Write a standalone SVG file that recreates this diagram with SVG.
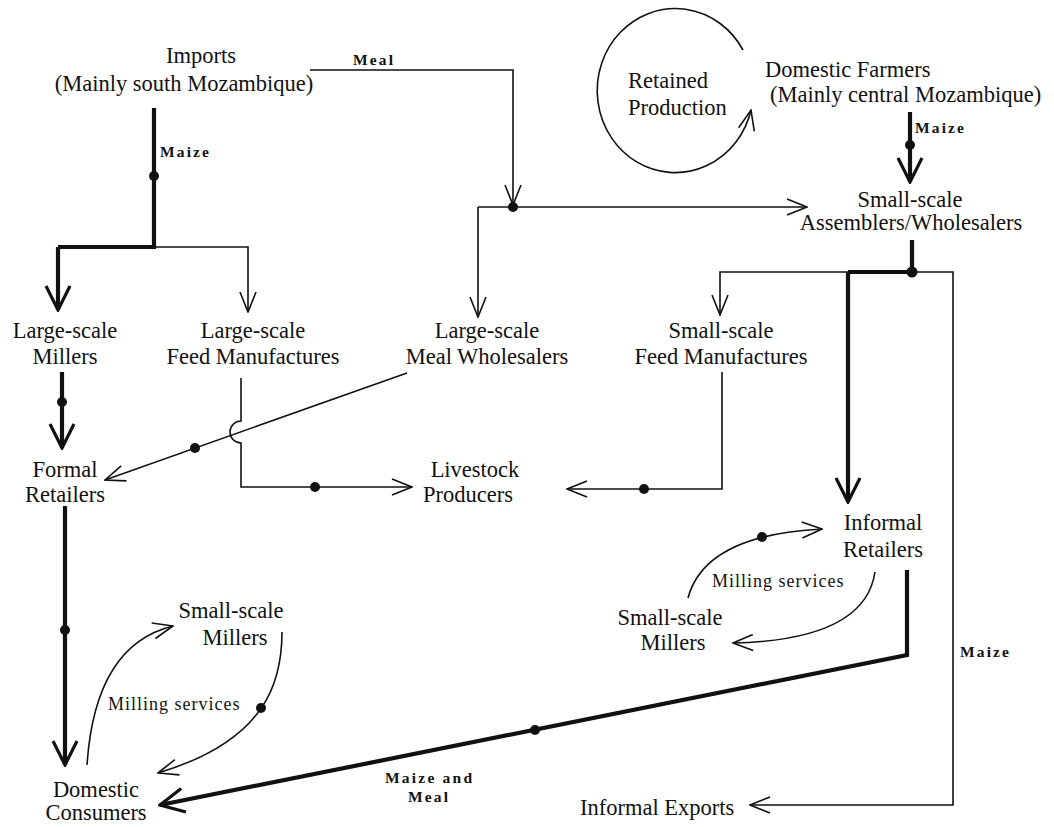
<svg xmlns="http://www.w3.org/2000/svg" width="1054" height="827" viewBox="0 0 1054 827">
<style>
text{font-family:"Liberation Serif","Times New Roman",serif;fill:#111}
.n{font-size:22.5px;text-anchor:middle}
.s{font-size:22.5px}
.lb{font-size:15.5px;font-weight:bold}
.ms{font-size:18px;letter-spacing:1px}
.t{fill:none;stroke:#111;stroke-width:1.6}
.k{fill:none;stroke:#111;stroke-width:4.2}
.ta{marker-end:url(#at)}
.ka{marker-end:url(#ak)}
.d{fill:#111}
</style>
<defs>
<marker id="at" markerUnits="userSpaceOnUse" viewBox="-1 -1 22 18" refX="20" refY="8" markerWidth="22" markerHeight="18" orient="auto">
<path d="M0,0 L20,8 L0,16" fill="none" stroke="#111" stroke-width="1.6"/>
</marker>
<marker id="ak" markerUnits="userSpaceOnUse" viewBox="-2 -2 28 28" refX="24" refY="12" markerWidth="28" markerHeight="28" orient="auto">
<path d="M0,0 L24,12 L0,24" fill="none" stroke="#111" stroke-width="3.2"/>
</marker>
</defs>
<rect width="1054" height="827" fill="#fff"/>

<g id="connectors">
<!-- Imports maize -->
<path class="k" d="M154,108 V247 H58"/>
<path class="k ka" d="M58,247 V310"/>
<path class="t ta" d="M154,247 H248 V312"/>
<!-- Meal from imports -->
<path class="t ta" d="M310,70 H513 V205"/>
<path class="t ta" d="M478,207 H807"/>
<path class="t ta" d="M478,207 V317"/>
<!-- Retained production loop -->
<path class="t ta" d="M743,50 A78 82 0 1 0 751,110"/>
<!-- Domestic farmers maize -->
<path class="k ka" d="M910,112 V182"/>
<!-- Assemblers outputs -->
<path class="k" d="M912,240 V272 H848"/>
<path class="k ka" d="M848,272 V502"/>
<path class="t ta" d="M848,272 H720 V315"/>
<path class="t ta" d="M912,272 H953 V805 H750"/>
<!-- Millers to formal retailers -->
<path class="k ka" d="M62,372 V448"/>
<!-- Meal wholesalers to formal retailers -->
<path class="t ta" d="M407,373 L105,480"/>
<!-- Large-scale feed to livestock with hop -->
<path class="t ta" d="M241,378 V421 A11 11 0 0 0 241,443 V487 H412"/>
<!-- Small-scale feed to livestock -->
<path class="t ta" d="M722,372 V489 H567"/>
<!-- Formal retailers to consumers -->
<path class="k ka" d="M65,506 V765"/>
<!-- Left milling services -->
<path class="t ta" d="M87,765 Q95,645 173,626"/>
<path class="t ta" d="M282,632 C282,680 268,740 158,773"/>
<!-- Right milling services -->
<path class="t ta" d="M688,598 Q705,535 822,529"/>
<path class="t ta" d="M875,572 Q865,640 733,643"/>
<!-- Informal retailers to consumers -->
<path class="k ka" d="M907,570 V655 L160,805"/>
<!-- dots -->
<circle class="d" cx="154" cy="176" r="5"/>
<circle class="d" cx="513" cy="207" r="5"/>
<circle class="d" cx="910" cy="145" r="5"/>
<circle class="d" cx="912" cy="272" r="5.5"/>
<circle class="d" cx="62" cy="402" r="5"/>
<circle class="d" cx="195" cy="448" r="5"/>
<circle class="d" cx="315" cy="487" r="5"/>
<circle class="d" cx="644" cy="489" r="5"/>
<circle class="d" cx="65" cy="630" r="5"/>
<circle class="d" cx="261" cy="708" r="5"/>
<circle class="d" cx="762" cy="537" r="5"/>
<circle class="d" cx="535" cy="730" r="5"/>
<!-- labels -->
<text class="lb" x="353" y="65" textLength="40" lengthAdjust="spacing">Meal</text>
<text class="lb" x="160" y="157" textLength="49" lengthAdjust="spacing">Maize</text>
<text class="lb" x="915" y="133" textLength="49" lengthAdjust="spacing">Maize</text>
<text class="lb" x="960" y="657" textLength="49" lengthAdjust="spacing">Maize</text>
<text class="lb" x="385" y="783" textLength="87" lengthAdjust="spacing">Maize and</text>
<text class="lb" x="408" y="802" textLength="40" lengthAdjust="spacing">Meal</text>
<text class="ms" x="108" y="710">Milling services</text>
<text class="ms" x="712" y="587">Milling services</text>
</g>

<g id="imports"><text class="n" x="201" y="63">Imports</text><text class="n" x="184" y="91">(Mainly south Mozambique)</text></g>
<g id="retained"><text class="s" x="628" y="88">Retained</text><text class="s" x="628" y="115">Production</text></g>
<g id="farmers"><text class="s" x="765" y="77">Domestic Farmers</text><text class="s" x="770" y="102">(Mainly central Mozambique)</text></g>
<g id="assemblers"><text class="n" x="910" y="207">Small-scale</text><text class="n" x="911" y="230">Assemblers/Wholesalers</text></g>
<g id="ls-millers"><text class="n" x="65" y="338">Large-scale</text><text class="n" x="65" y="364">Millers</text></g>
<g id="ls-feed"><text class="n" x="253" y="338">Large-scale</text><text class="n" x="253" y="364">Feed Manufactures</text></g>
<g id="ls-meal"><text class="n" x="487" y="338">Large-scale</text><text class="n" x="487" y="364">Meal Wholesalers</text></g>
<g id="ss-feed"><text class="n" x="721" y="338">Small-scale</text><text class="n" x="721" y="364">Feed Manufactures</text></g>
<g id="formal"><text class="n" x="65" y="477">Formal</text><text class="n" x="65" y="502">Retailers</text></g>
<g id="livestock"><text class="n" x="475" y="477">Livestock</text><text class="n" x="468" y="502">Producers</text></g>
<g id="informal"><text class="n" x="883" y="530">Informal</text><text class="n" x="883" y="557">Retailers</text></g>
<g id="ss-millers-r"><text class="n" x="670" y="625">Small-scale</text><text class="n" x="673" y="650">Millers</text></g>
<g id="ss-millers-l"><text class="n" x="231" y="618">Small-scale</text><text class="n" x="235" y="645">Millers</text></g>
<g id="consumers"><text class="n" x="96" y="797">Domestic</text><text class="n" x="96" y="820">Consumers</text></g>
<g id="exports"><text class="s" x="580" y="815">Informal Exports</text></g>
</svg>
